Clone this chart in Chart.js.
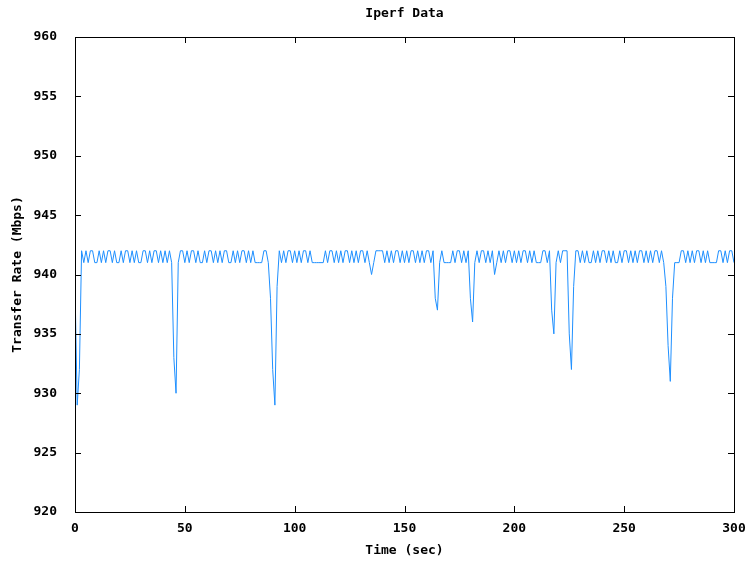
<!DOCTYPE html>
<html>
<head>
<meta charset="utf-8">
<title>Iperf Data</title>
<script src="https://cdn.jsdelivr.net/npm/chart.js@4.4.0/dist/chart.umd.min.js"></script>
<style>
  html, body { margin: 0; padding: 0; background: #fff; }
  #chart { display: block; }
</style>
</head>
<body>
<canvas id="chart" width="751" height="562"></canvas>
<script>
// transfer rate per second (Mbps)
const rates = [
  939, 929, 932, 942, 941, 942, 941, 942, 942, 941, 941, 942, 941, 942, 941, 942, 942, 941, 942, 941,
  941, 942, 941, 942, 942, 941, 942, 941, 942, 941, 941, 942, 942, 941, 942, 941, 942, 942, 941, 942,
  941, 942, 941, 942, 941, 933, 930, 941, 942, 942, 941, 942, 941, 942, 942, 941, 942, 941, 941, 942,
  941, 942, 942, 941, 942, 941, 942, 941, 942, 942, 941, 941, 942, 941, 942, 941, 942, 942, 941, 942,
  941, 942, 941, 941, 941, 941, 942, 942, 941, 938, 932, 929, 939, 942, 941, 942, 941, 942, 942, 941,
  942, 941, 942, 941, 942, 942, 941, 942, 941, 941, 941, 941, 941, 941, 942, 941, 942, 942, 941, 942,
  941, 942, 941, 942, 942, 941, 942, 941, 942, 941, 942, 942, 941, 942, 941, 940, 941, 942, 942, 942,
  942, 941, 942, 941, 942, 941, 942, 942, 941, 942, 941, 942, 941, 942, 942, 941, 942, 941, 942, 941,
  942, 942, 941, 942, 938, 937, 941, 942, 941, 941, 941, 941, 942, 941, 942, 942, 941, 942, 941, 942,
  938, 936, 941, 942, 941, 942, 942, 941, 942, 941, 942, 940, 941, 942, 941, 942, 941, 942, 942, 941,
  942, 941, 942, 941, 942, 942, 941, 942, 941, 942, 941, 941, 941, 942, 942, 941, 942, 937, 935, 941,
  942, 941, 942, 942, 942, 935, 932, 939, 942, 942, 941, 942, 941, 942, 941, 941, 942, 941, 942, 941,
  942, 942, 941, 942, 941, 942, 941, 941, 942, 941, 942, 942, 941, 942, 941, 942, 941, 942, 942, 941,
  942, 941, 942, 941, 942, 942, 941, 942, 941, 939, 934, 931, 938, 941, 941, 941, 942, 942, 941, 942,
  941, 942, 941, 942, 942, 941, 942, 941, 942, 941, 941, 941, 941, 942, 942, 941, 942, 941, 942, 942, 941
];
const times = rates.map((v, i) => i); // one sample per second

const xTicks = [0, 50, 100, 150, 200, 250, 300];
const yTicks = [920, 925, 930, 935, 940, 945, 950, 955, 960];

const FONT = 'DejaVu Sans Mono';

// gnuplot style frame with inward ticks on all four sides + title
const gnuFrame = {
  id: 'gnuFrame',
  afterDraw(chart) {
    const {ctx, chartArea: a, scales} = chart;
    ctx.save();
    ctx.strokeStyle = '#000';
    ctx.lineWidth = 1;
    ctx.strokeRect(Math.floor(a.left) + 0.5, Math.floor(a.top) + 0.5,
      Math.round(a.right - a.left), Math.round(a.bottom - a.top));
    ctx.beginPath();
    for (const t of xTicks) {
      const x = Math.round(scales.x.getPixelForValue(t)) + 0.5;
      ctx.moveTo(x, a.bottom); ctx.lineTo(x, a.bottom - 6);
      ctx.moveTo(x, a.top); ctx.lineTo(x, a.top + 6);
    }
    for (const t of yTicks) {
      const y = Math.round(scales.y.getPixelForValue(t)) + 0.5;
      ctx.moveTo(a.left, y); ctx.lineTo(a.left + 6, y);
      ctx.moveTo(a.right, y); ctx.lineTo(a.right - 6, y);
    }
    ctx.stroke();
    ctx.fillStyle = '#000';
    ctx.font = 'bold 13px ' + FONT;
    ctx.textAlign = 'center';
    ctx.textBaseline = 'middle';
    ctx.fillText('Iperf Data', (a.left + a.right) / 2, 14);
    ctx.restore();
  }
};

new Chart(document.getElementById('chart'), {
  type: 'line',
  data: {
    labels: times,
    datasets: [{
      data: rates,
      borderColor: '#1e8fff',
      borderWidth: 1,
      pointRadius: 0,
      tension: 0,
      fill: false
    }]
  },
  options: {
    responsive: false,
    animation: false,
    layout: { padding: { left: 0, top: 37, right: 17, bottom: 0 } },
    plugins: { legend: { display: false }, tooltip: { enabled: false }, title: { display: false } },
    scales: {
      x: {
        type: 'linear',
        min: 0, max: 300,
        afterFit: (s) => { s.height = 50; s.paddingLeft = 0; s.paddingRight = 0; },
        afterBuildTicks: (s) => { s.ticks = xTicks.map(v => ({value: v})); },
        grid: { display: false },
        border: { display: false },
        ticks: { color: '#000', padding: 1, maxRotation: 0, autoSkip: false,
                 font: { family: FONT, size: 13, weight: 'bold' } },
        title: { display: true, text: 'Time (sec)', color: '#000', padding: { top: 0, bottom: 4 },
                 font: { family: FONT, size: 13, weight: 'bold' } }
      },
      y: {
        min: 920, max: 960,
        afterFit: (s) => { s.width = 75; s.paddingTop = 0; s.paddingBottom = 0; },
        afterBuildTicks: (s) => { s.ticks = yTicks.map(v => ({value: v})); },
        grid: { display: false },
        border: { display: false },
        ticks: { color: '#000', padding: 10, autoSkip: false,
                 font: { family: FONT, size: 13, weight: 'bold' } },
        title: { display: true, text: 'Transfer Rate (Mbps)', color: '#000', padding: { top: 10, bottom: 0 },
                 font: { family: FONT, size: 13, weight: 'bold' } }
      }
    }
  },
  plugins: [gnuFrame]
});
</script>
</body>
</html>
